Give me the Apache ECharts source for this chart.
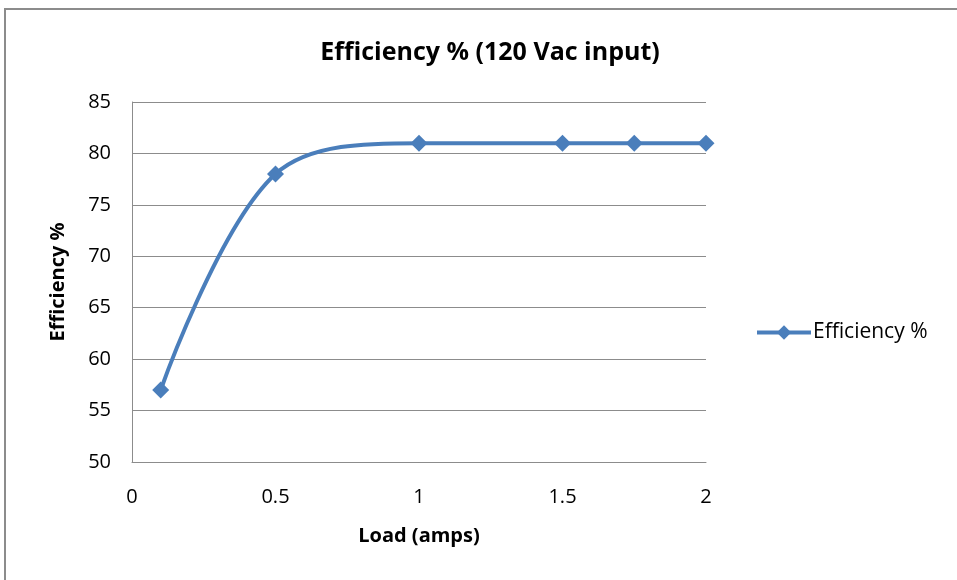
<!DOCTYPE html>
<html>
<head>
<meta charset="utf-8">
<script src="https://cdn.jsdelivr.net/npm/echarts@6/dist/echarts.min.js"></script>
<style>
  html, body { margin: 0; padding: 0; background: #fff; }
  #chart { width: 957px; height: 580px; }
</style>
</head>
<body>
<div id="chart"></div>
<script>
// load in amps vs efficiency in percent
var loadAmps = [0.1, 0.5, 1, 1.5, 1.75, 2];
var efficiency = [57, 78, 81, 81, 81, 81];
var seriesName = 'Efficiency %';

var points = loadAmps.map(function (x, i) { return [x, efficiency[i]]; });
var fontFam = '"Open Sans", "Liberation Sans", sans-serif';

var chart = echarts.init(document.getElementById('chart'));
chart.setOption({
    animation: false,
    backgroundColor: '#fff',
    graphic: [{
        type: 'rect',
        shape: { x: 5, y: 9, width: 1000, height: 620 },
        style: { fill: 'none', stroke: '#8c8c8c', lineWidth: 2 }
    }],
    title: {
        text: 'Efficiency % (120 Vac input)',
        left: 485,
        textAlign: 'center',
        top: 35,
        textStyle: { fontFamily: fontFam, fontSize: 25, fontWeight: 'bold', color: '#000' }
    },
    grid: { left: 132, right: 251, top: 102, bottom: 118, containLabel: false },
    xAxis: {
        type: 'value',
        min: 0, max: 2, interval: 0.5,
        name: 'Load (amps)',
        nameLocation: 'middle',
        nameGap: 64,
        nameTextStyle: { fontFamily: fontFam, fontSize: 20, fontWeight: 'bold', color: '#000' },
        axisLine: { show: true, lineStyle: { color: '#8c8c8c', width: 1 } },
        axisTick: { show: false },
        splitLine: { show: false },
        axisLabel: { fontFamily: fontFam, fontSize: 20, color: '#000', margin: 25 }
    },
    yAxis: {
        type: 'value',
        min: 50, max: 85, interval: 5,
        name: 'Efficiency %',
        nameLocation: 'middle',
        nameGap: 64,
        nameTextStyle: { fontFamily: fontFam, fontSize: 20, fontWeight: 'bold', color: '#000' },
        axisLine: { show: true, lineStyle: { color: '#8c8c8c', width: 1 } },
        axisTick: { show: false },
        splitLine: { show: true, lineStyle: { color: '#8c8c8c', width: 1 } },
        axisLabel: { fontFamily: fontFam, fontSize: 20, color: '#000', margin: 21 }
    },
    legend: {
        left: 750,
        top: 317,
        itemWidth: 54,
        itemHeight: 18,
        itemGap: 0,
        data: [seriesName],
        lineStyle: { width: 4 },
        textStyle: { fontFamily: fontFam, fontSize: 21, color: '#000', padding: [0, 0, 0, -3] }
    },
    series: [{
        name: seriesName,
        type: 'line',
        data: points,
        smooth: 0.35,
        symbol: 'diamond',
        symbolSize: 17,
        color: '#4a7ebb',
        lineStyle: { color: '#4a7ebb', width: 4 },
        itemStyle: { color: '#4a7ebb' }
    }]
});
</script>
</body>
</html>
